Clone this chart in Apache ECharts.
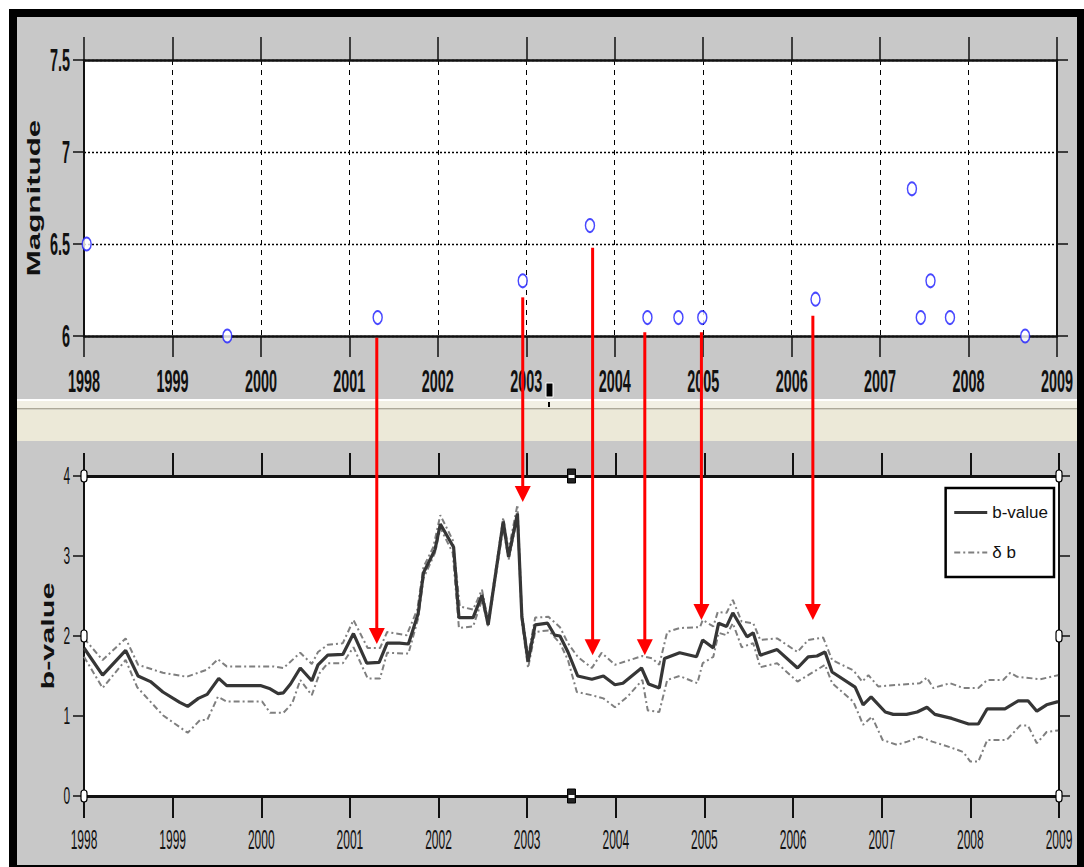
<!DOCTYPE html>
<html><head><meta charset="utf-8">
<script src="https://cdn.jsdelivr.net/npm/echarts@6/dist/echarts.min.js"></script>
<style>html,body{margin:0;padding:0;background:#fff}#c{width:1084px;height:867px}</style>
</head><body><div id="c"></div>
<script>
// ---------- data ----------
const yearTicks = [1998,1999,2000,2001,2002,2003,2004,2005,2006,2007,2008,2009];
const magTicks = [6, 6.5, 7, 7.5];
const magTickLabels = ['6', '6.5', '7', '7.5'];
const bTicks = [0, 1, 2, 3, 4];
const bTickLabels = ['0', '1', '2', '3', '4'];

const quakeYears = [1998.03, 1999.62, 2001.32, 2002.96, 2003.72, 2004.37, 2004.72, 2004.99, 2006.27, 2007.36, 2007.46, 2007.57, 2007.79, 2008.64];
const quakeMags  = [6.5, 6.0, 6.1, 6.3, 6.6, 6.1, 6.1, 6.1, 6.2, 6.8, 6.1, 6.3, 6.1, 6.0];

const bValue = [[1998.0,1.85],[1998.21,1.51],[1998.47,1.82],[1998.61,1.50],[1998.75,1.43],[1998.89,1.30],[1999.08,1.17],[1999.17,1.12],[1999.29,1.22],[1999.39,1.27],[1999.52,1.47],[1999.61,1.38],[1999.99,1.38],[2000.10,1.34],[2000.19,1.28],[2000.25,1.29],[2000.33,1.40],[2000.44,1.60],[2000.57,1.44],[2000.64,1.64],[2000.75,1.76],[2000.92,1.77],[2001.04,2.03],[2001.19,1.66],[2001.33,1.67],[2001.42,1.91],[2001.56,1.91],[2001.66,1.90],[2001.77,2.28],[2001.83,2.79],[2001.96,3.08],[2002.02,3.40],[2002.17,3.11],[2002.23,2.23],[2002.39,2.23],[2002.49,2.51],[2002.56,2.14],[2002.73,3.43],[2002.79,2.99],[2002.89,3.53],[2002.94,2.24],[2003.01,1.68],[2003.09,2.14],[2003.23,2.16],[2003.31,2.01],[2003.37,2.00],[2003.46,1.80],[2003.57,1.50],[2003.73,1.46],[2003.86,1.50],[2003.99,1.39],[2004.08,1.41],[2004.29,1.60],[2004.37,1.40],[2004.49,1.35],[2004.55,1.72],[2004.72,1.79],[2004.91,1.74],[2004.98,1.95],[2005.10,1.85],[2005.16,2.16],[2005.25,2.12],[2005.32,2.29],[2005.48,1.99],[2005.55,2.04],[2005.63,1.76],[2005.82,1.83],[2006.05,1.60],[2006.17,1.74],[2006.27,1.75],[2006.36,1.80],[2006.44,1.55],[2006.70,1.36],[2006.79,1.14],[2006.88,1.24],[2007.04,1.05],[2007.13,1.02],[2007.28,1.02],[2007.40,1.05],[2007.51,1.11],[2007.60,1.02],[2007.79,0.97],[2007.98,0.90],[2008.09,0.90],[2008.19,1.09],[2008.39,1.09],[2008.54,1.19],[2008.65,1.19],[2008.75,1.06],[2008.86,1.14],[2008.99,1.18]];

const bUpper = [[1998.0,1.97],[1998.21,1.70],[1998.47,1.97],[1998.61,1.64],[1998.89,1.54],[1999.16,1.49],[1999.39,1.58],[1999.51,1.71],[1999.61,1.62],[2000.13,1.62],[2000.25,1.60],[2000.44,1.79],[2000.57,1.65],[2000.64,1.80],[2000.75,1.89],[2000.92,1.91],[2001.04,2.20],[2001.20,1.85],[2001.34,1.85],[2001.42,2.05],[2001.64,2.01],[2001.76,2.33],[2001.83,2.86],[2001.94,3.11],[2002.02,3.51],[2002.16,3.20],[2002.24,2.37],[2002.39,2.33],[2002.49,2.58],[2002.56,2.18],[2002.73,3.48],[2002.79,3.07],[2002.89,3.64],[2002.94,2.30],[2003.01,1.74],[2003.09,2.23],[2003.24,2.24],[2003.37,2.11],[2003.46,1.91],[2003.57,1.74],[2003.73,1.60],[2003.84,1.79],[2003.99,1.64],[2004.30,1.75],[2004.41,1.72],[2004.49,1.64],[2004.58,2.05],[2004.72,2.10],[2004.95,2.11],[2004.98,2.20],[2005.10,2.12],[2005.15,2.30],[2005.25,2.29],[2005.32,2.45],[2005.42,2.18],[2005.55,2.16],[2005.63,1.95],[2005.82,1.97],[2006.05,1.80],[2006.17,1.95],[2006.34,1.98],[2006.44,1.70],[2006.68,1.57],[2006.78,1.43],[2006.85,1.51],[2006.96,1.37],[2007.43,1.41],[2007.51,1.48],[2007.58,1.35],[2007.77,1.41],[2007.92,1.35],[2008.09,1.35],[2008.19,1.45],[2008.37,1.45],[2008.45,1.54],[2008.53,1.49],[2008.79,1.46],[2008.99,1.51]];

const bLower = [[1998.0,1.74],[1998.21,1.35],[1998.47,1.70],[1998.60,1.36],[1998.89,1.01],[1999.17,0.79],[1999.31,0.95],[1999.39,0.95],[1999.51,1.24],[1999.61,1.18],[2000.01,1.18],[2000.10,1.04],[2000.25,1.04],[2000.35,1.16],[2000.44,1.45],[2000.57,1.26],[2000.66,1.54],[2000.75,1.66],[2000.92,1.66],[2001.04,1.86],[2001.20,1.47],[2001.34,1.47],[2001.42,1.79],[2001.66,1.78],[2001.77,2.22],[2001.83,2.72],[2001.96,3.04],[2002.02,3.35],[2002.16,3.04],[2002.23,2.10],[2002.39,2.12],[2002.49,2.45],[2002.56,2.12],[2002.73,3.36],[2002.79,2.95],[2002.89,3.48],[2002.94,2.17],[2003.01,1.60],[2003.09,2.05],[2003.24,2.07],[2003.37,1.91],[2003.46,1.70],[2003.56,1.30],[2003.73,1.26],[2003.86,1.22],[2003.99,1.11],[2004.13,1.24],[2004.30,1.45],[2004.36,1.07],[2004.49,1.05],[2004.58,1.45],[2004.72,1.50],[2004.92,1.41],[2004.98,1.66],[2005.10,1.74],[2005.16,2.04],[2005.25,2.01],[2005.32,2.16],[2005.42,1.86],[2005.55,1.91],[2005.63,1.61],[2005.82,1.66],[2006.05,1.43],[2006.17,1.51],[2006.36,1.64],[2006.44,1.41],[2006.68,1.18],[2006.79,0.89],[2006.89,0.99],[2007.01,0.70],[2007.17,0.64],[2007.29,0.68],[2007.43,0.74],[2007.57,0.68],[2007.77,0.61],[2007.92,0.55],[2008.00,0.43],[2008.09,0.43],[2008.19,0.70],[2008.41,0.70],[2008.56,0.88],[2008.65,0.88],[2008.75,0.66],[2008.86,0.80],[2008.99,0.82]];

// red arrows: year, start magnitude (top panel), end b-value (bottom panel)
const arrowYears   = [2001.31, 2002.96, 2003.75, 2004.34, 2004.98, 2006.24];
const arrowFromMag = [5.99, 6.21, 6.48, 6.02, 6.02, 6.11];
const arrowToB     = [1.90, 3.675, 1.76, 1.76, 2.20, 2.20];

const legendNames = ['b-value', 'δ b'];
const magTitle = 'Magnitude';
const bTitle = 'b-value';

// ---------- chart ----------
const chart = echarts.init(document.getElementById('c'), null, {renderer: 'svg'});
const INK = '#111';
const MAIN = '#363636', BAND = '#7f7f7f', DASHDOT = [6, 3, 2, 3];
function xAx(grid, pos, lw, tickLen, tickW, split) {
  return {gridIndex: grid, type: 'value', min: 1998, max: 2009, interval: 1, position: pos,
    axisLine: {show: true, onZero: false, lineStyle: {color: INK, width: lw}},
    axisTick: {show: true, inside: false, length: tickLen, lineStyle: {color: INK, width: tickW}},
    axisLabel: {show: false},
    splitLine: {show: split, lineStyle: {color: '#000', width: 1, type: [5, 5]}}};
}
function yAx(grid, pos, min, max, iv, split) {
  return {gridIndex: grid, type: 'value', min: min, max: max, interval: iv, position: pos,
    axisLine: {show: true, onZero: false, lineStyle: {color: INK, width: 2}},
    axisTick: {show: true, inside: false, length: 11, lineStyle: {color: INK, width: 1.5}},
    axisLabel: {show: false},
    splitLine: {show: split, lineStyle: {color: '#000', width: 1.3, type: [2, 2]}}};
}

const option = {
  backgroundColor: '#fff',
  animation: false,
  grid: [
    {left: 84, top: 60, width: 973, height: 276, show: true, backgroundColor: '#fff', borderWidth: 0, outerBoundsMode: 'none', containLabel: false},
    {left: 84, top: 476, width: 975, height: 320, show: true, backgroundColor: '#fff', borderWidth: 0, outerBoundsMode: 'none', containLabel: false}
  ],
  xAxis: [
    xAx(0, 'bottom', 2.5, 21, 1.5, true),
    xAx(0, 'top', 2.5, 23, 1.5, false),
    xAx(1, 'bottom', 3, 22, 2, false),
    xAx(1, 'top', 3, 23, 2, false)
  ],
  yAxis: [
    yAx(0, 'left', 6, 7.5, 0.5, true),
    yAx(0, 'right', 6, 7.5, 0.5, false),
    yAx(1, 'left', 0, 4, 1, false),
    yAx(1, 'right', 0, 4, 1, false)
  ],
  legend: {
    orient: 'vertical', right: 30, top: 488,
    data: [
      {name: legendNames[0], lineStyle: {color: MAIN, width: 3.2}},
      {name: legendNames[1], lineStyle: {color: BAND, width: 2, type: DASHDOT}}
    ],
    itemWidth: 33, itemHeight: 14, itemGap: 23, padding: [16, 6, 16, 7],
    backgroundColor: '#fff', borderColor: '#000', borderWidth: 2.5, borderRadius: 0,
    selectedMode: false, z: 20,
    itemStyle: {opacity: 0},
    textStyle: {fontFamily: '"Liberation Sans", Arial, sans-serif', fontSize: 17, color: INK}
  },
  series: [
    {type: 'scatter', name: 'events', xAxisIndex: 0, yAxisIndex: 0,
      data: quakeYears.map((y, i) => [y, quakeMags[i]]),
      symbol: 'circle', symbolSize: [9, 13],
      itemStyle: {color: '#fff', borderColor: '#1a1aff', borderWidth: 1.7}, z: 5},
    {type: 'line', name: legendNames[1], xAxisIndex: 2, yAxisIndex: 2, data: bUpper,
      symbol: 'none', showSymbol: false, itemStyle: {color: BAND},
      lineStyle: {color: BAND, width: 2, type: DASHDOT}, z: 3},
    {type: 'line', name: legendNames[1], xAxisIndex: 2, yAxisIndex: 2, data: bLower,
      symbol: 'none', showSymbol: false, itemStyle: {color: BAND},
      lineStyle: {color: BAND, width: 2, type: DASHDOT}, z: 3},
    {type: 'line', name: legendNames[0], xAxisIndex: 2, yAxisIndex: 2, data: bValue,
      symbol: 'none', showSymbol: false, itemStyle: {color: MAIN},
      lineStyle: {color: MAIN, width: 3.2}, z: 4}
  ]
};
chart.setOption(option);

// ---------- decorations, labels, arrows (positions from the library's scales) ----------
const g = [];
// window frame and background
g.push({type: 'rect', z: -10, shape: {x: 13, y: 13, width: 1068, height: 856}, style: {fill: '#c8c8c8', stroke: '#000', lineWidth: 8}});
// splitter band
g.push({type: 'rect', z: -9, shape: {x: 17, y: 399, width: 1060, height: 2}, style: {fill: '#ffffff'}});
g.push({type: 'rect', z: -9, shape: {x: 17, y: 401, width: 1060, height: 7}, style: {fill: '#f1efe4'}});
g.push({type: 'rect', z: -9, shape: {x: 17, y: 408, width: 1060, height: 1.5}, style: {fill: '#aca899'}});
g.push({type: 'rect', z: -9, shape: {x: 17, y: 409.5, width: 1060, height: 31.5}, style: {fill: '#ece9d8'}});
g.push({type: 'rect', z: 30, shape: {x: 546, y: 383, width: 7, height: 14}, style: {fill: '#000', stroke: '#fff', lineWidth: 1}});
g.push({type: 'rect', z: 30, shape: {x: 548, y: 402, width: 2, height: 5}, style: {fill: '#000'}});

const P0 = v => chart.convertToPixel({xAxisIndex: 0, yAxisIndex: 0}, v);
const P1 = v => chart.convertToPixel({xAxisIndex: 2, yAxisIndex: 2}, v);

function txt(x, y, s, font, sx, sy, align, rot) {
  return {type: 'text', z: 15, x: x, y: y, scaleX: sx, scaleY: sy, rotation: rot || 0,
    style: {text: s, font: font, fill: INK, textAlign: align, align: align, textVerticalAlign: 'middle', verticalAlign: 'middle'}};
}
const boldF = 'bold 18px "Liberation Sans", Arial, sans-serif';
const regF = '16px "Liberation Sans", Arial, sans-serif';
// top panel tick labels
yearTicks.forEach(yr => { const p = P0([yr, magTicks[0]]); g.push(txt(p[0], p[1] + 45, String(yr), boldF, 0.8, 1.78, 'center')); });
magTicks.forEach((m, i) => { const p = P0([yearTicks[0], m]); g.push(txt(p[0] - 14, p[1], magTickLabels[i], boldF, 0.8, 1.78, 'right')); });
// bottom panel tick labels
yearTicks.forEach(yr => { const p = P1([yr, bTicks[0]]); g.push(txt(p[0], p[1] + 44, String(yr), regF, 0.75, 1.75, 'center')); });
bTicks.forEach((b, i) => { const p = P1([yearTicks[0], b]); g.push(txt(p[0] - 14, p[1], bTickLabels[i], '14px "Liberation Sans", Arial, sans-serif', 0.85, 1.7, 'right')); });
// axis titles
(function () {
  const a = P0([yearTicks[0], (magTicks[0] + magTicks[magTicks.length - 1]) / 2]);
  g.push(txt(a[0] - 50, a[1], magTitle, boldF, 1.74, 1, 'center', Math.PI / 2));
  const b = P1([yearTicks[0], (bTicks[0] + bTicks[bTicks.length - 1]) / 2]);
  g.push(txt(b[0] - 36, b[1], bTitle, boldF, 1.7, 1, 'center', Math.PI / 2));
})();
// selection handles on the lower axes box
(function () {
  const x0 = yearTicks[0], x1 = yearTicks[yearTicks.length - 1];
  const yb = [bTicks[0], (bTicks[0] + bTicks[bTicks.length - 1]) / 2, bTicks[bTicks.length - 1]];
  [x0, x1].forEach(xv => yb.forEach(yv => {
    const p = P1([xv, yv]);
    g.push({type: 'rect', z: 25, shape: {x: p[0] - 3, y: p[1] - 6, width: 6, height: 12, r: 3}, style: {fill: '#fff', stroke: '#000', lineWidth: 1.2}});
  }));
  [bTicks[0], bTicks[bTicks.length - 1]].forEach(yv => {
    const p = P1([(x0 + x1) / 2, yv]);
    g.push({type: 'rect', z: 25, shape: {x: p[0] - 4, y: p[1] - 7, width: 8, height: 14}, style: {fill: '#222', stroke: '#000', lineWidth: 1}});
    g.push({type: 'rect', z: 26, shape: {x: p[0] - 3, y: p[1] - 1, width: 6, height: 3}, style: {fill: '#fff'}});
  });
})();
// red arrows
arrowYears.forEach((yr, i) => {
  const a = P0([yr, arrowFromMag[i]]);
  const b = P1([yr, arrowToB[i]]);
  const head = 16, half = 8;
  g.push({type: 'line', z: 40, shape: {x1: a[0], y1: a[1], x2: a[0], y2: b[1] - head + 2}, style: {stroke: '#ff0000', lineWidth: 3}});
  g.push({type: 'polygon', z: 40, shape: {points: [[a[0] - half, b[1] - head], [a[0] + half, b[1] - head], [a[0], b[1]]]}, style: {fill: '#ff0000'}});
});
chart.setOption({graphic: {elements: g}});
</script></body></html>
